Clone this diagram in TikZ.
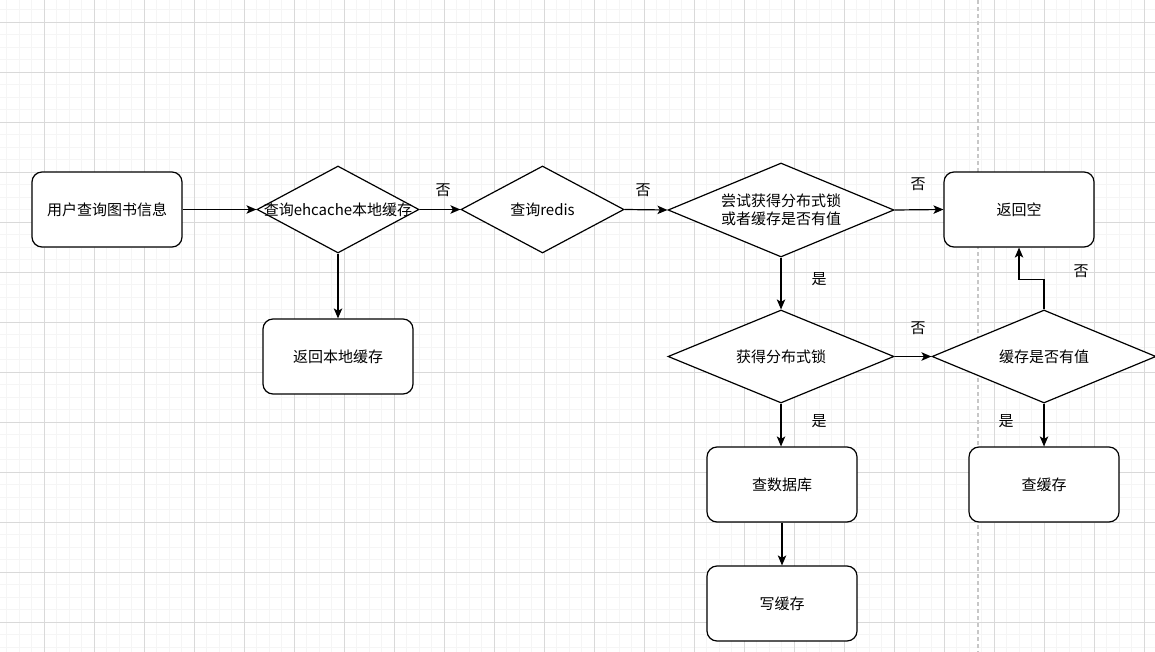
\documentclass[tikz,border=0pt]{standalone}
\usepackage{fontspec}
\setmainfont{Noto Sans CJK SC}
\usetikzlibrary{shapes.geometric,arrows.meta}
\begin{document}
\begin{tikzpicture}[x=1pt,y=-1pt,
  minorgrid/.style={draw=black!4,line width=0.9pt},
  majorgrid/.style={draw=black!15,line width=0.9pt},
  box/.style={draw=black,line width=1.2pt,fill=white,rounded corners=10pt,minimum width=150pt,minimum height=75pt,inner sep=0pt,font=\fontsize{15}{17}\selectfont},
  dia/.style={draw=black,line width=1.2pt,fill=white,diamond,inner sep=0pt},
  txt/.style={font=\fontsize{15}{18}\selectfont,align=center,inner sep=0pt},
  lbl/.style={font=\fontsize{15}{17}\selectfont,inner sep=0pt},
  arr/.style={draw=black,line width=1.2pt,-{Stealth[length=10pt,width=8.5pt,inset=2.5pt]}}]
\useasboundingbox (0,0) rectangle (1155,652);
\fill[white] (0,0) rectangle (1155,652);
% grid
\foreach \x in {6.5,19,...,1155} \draw[minorgrid] (\x,0) -- (\x,652);
\foreach \y in {9.5,22,...,652} \draw[minorgrid] (0,\y) -- (1155,\y);
\foreach \x in {44,94,...,1155} \draw[majorgrid] (\x,0) -- (\x,652);
\foreach \y in {22,72,...,652} \draw[majorgrid] (0,\y) -- (1155,\y);
% dashed page break
\draw[draw=black!22,line width=2pt,dash pattern=on 4pt off 3pt] (978,0) -- (978,652);
% nodes
\node[box] (r1) at (107,209.5) {用户查询图书信息};
\node[dia,minimum width=162pt,minimum height=87pt] (d1) at (338,209.5) {};
\node[txt] (t1) at (d1.center) {查询ehcache本地缓存};
\node[dia,minimum width=163pt,minimum height=87pt] (d2) at (542.5,209.5) {};
\node[txt] (t2) at (d2.center) {查询redis};
\node[dia,minimum width=226pt,minimum height=94pt] (d3) at (781,210) {};
\node[txt] (t3) at (d3.center) {尝试获得分布式锁\\或者缓存是否有值};
\node[box] (r3) at (1019,209.5) {返回空};
\node[box] (r2) at (338,356.5) {返回本地缓存};
\node[dia,minimum width=226pt,minimum height=93pt] (d4) at (781,356.5) {};
\node[txt] (t4) at (d4.center) {获得分布式锁};
\node[dia,minimum width=224pt,minimum height=93pt] (d5) at (1044,356.5) {};
\node[txt] (t5) at (d5.center) {缓存是否有值};
\node[box] (r4) at (782,484.5) {查数据库};
\node[box] (r5) at (782,603.5) {写缓存};
\node[box] (r6) at (1044,484.5) {查缓存};
% connectors
\draw[arr] (r1.east) -- (d1.west);
\draw[arr] (d1.east) -- (d2.west);
\draw[arr] (d2.east) -- (d3.west);
\draw[arr] (d3.east) -- (r3.west);
\draw[arr] (d1.south) -- (r2.north);
\draw[arr] (d3.south) -- (d4.north);
\draw[arr] (d4.east) -- (d5.west);
\draw[arr] (d5.north) -- ++(0,-30) -| (r3.south);
\draw[arr] (d4.south) -- (d4.south |- r4.north);
\draw[arr] (d5.south) -- (r6.north);
\draw[arr] (r4.south) -- (r5.north);
% labels
\node[lbl] (l1) at (443,190) {否};
\node[lbl] (l2) at (643,190) {否};
\node[lbl] (l3) at (918,184) {否};
\node[lbl] (l4) at (918,328) {否};
\node[lbl] (l5) at (1081,271) {否};
\node[lbl] (l6) at (819,279) {是};
\node[lbl] (l7) at (819,421) {是};
\node[lbl] (l8) at (1006,421) {是};
\end{tikzpicture}
\end{document}
